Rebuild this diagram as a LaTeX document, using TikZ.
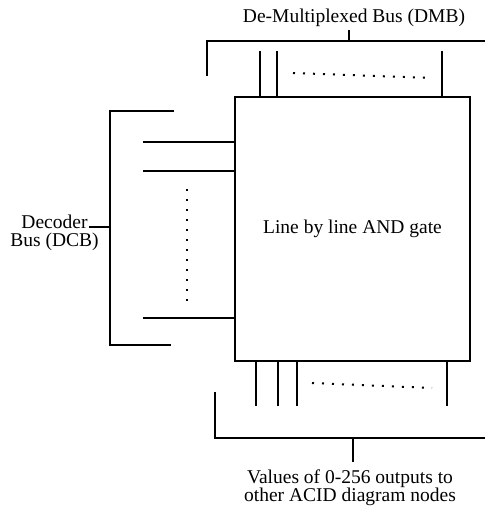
\documentclass[tikz,border=0pt]{standalone}
\usepackage{fontspec}
\setmainfont{Liberation Serif}
\usetikzlibrary{positioning, calc}

\begin{document}
\begin{tikzpicture}[x=1pt, y=-1pt,
  wire/.style={line width=1.8pt},
  dotrow/.style={line width=2pt, dash pattern=on 2pt off 8pt},
  lbl/.style={font=\fontsize{19.5}{18.5}\selectfont, align=center, inner sep=1pt}]
\useasboundingbox (0,0) rectangle (485,510);
% gate block
\node[draw, wire, minimum width=235pt, minimum height=264pt, inner sep=0pt, lbl] (gate) at (352.5,229) {Line by line AND gate};
% top bus (DMB)
\node[lbl, anchor=base] (dmb) at (354,23) {De-Multiplexed Bus (DMB)};
\coordinate (dmbL) at (207,76); \coordinate (dmbR) at (485,41); \coordinate (dmbC) at (349,41);
\draw[wire] (dmbL) -- (dmbL |- dmbR) -- (dmbR);
\draw[wire] (dmbC) -- ++(0,-11);
\foreach \x in {260,277,442} { \coordinate (t\x) at (\x,51); \draw[wire] (t\x) -- (t\x |- gate.north); }
\coordinate (tdA) at (293,73); \coordinate (tdB) at (432,78);
\draw[dotrow] (tdA) -- (tdB);
% left bus (DCB)
\node[lbl, anchor=north] (dcb) at (54.5,213.5) {Decoder\\Bus (DCB)};
\coordinate (dcbT) at (110,111); \coordinate (dcbB) at (110,345); \coordinate (dcbC) at (110,227);
\draw[wire] (174,111) -- (dcbT) -- (dcbB) -- (171,345);
\draw[wire] (dcbC) -- (89,227);
\foreach \y in {142,171,318} { \coordinate (l\y) at (143,\y); \draw[wire] (l\y) -- (l\y -| gate.west); }
\coordinate (ldA) at (187,189); \coordinate (ldB) at (187,308);
\draw[dotrow] (ldA) -- (ldB);
% bottom outputs
\foreach \x in {256,278,297,447} { \coordinate (b\x) at (\x,406); \draw[wire] (b\x |- gate.south) -- (b\x); }
\coordinate (bdA) at (312,383); \coordinate (bdB) at (432,388);
\draw[dotrow] (bdA) -- (bdB);
\node[lbl, anchor=north] (acid) at (350,468.5) {Values of 0-256 outputs to\\other ACID diagram nodes};
\coordinate (acL) at (215,392); \coordinate (acR) at (485,438); \coordinate (acC) at (353,438);
\draw[wire] (acL) -- (acL |- acR) -- (acR);
\draw[wire] (acC) -- ++(0,24);
\end{tikzpicture}
\end{document}
